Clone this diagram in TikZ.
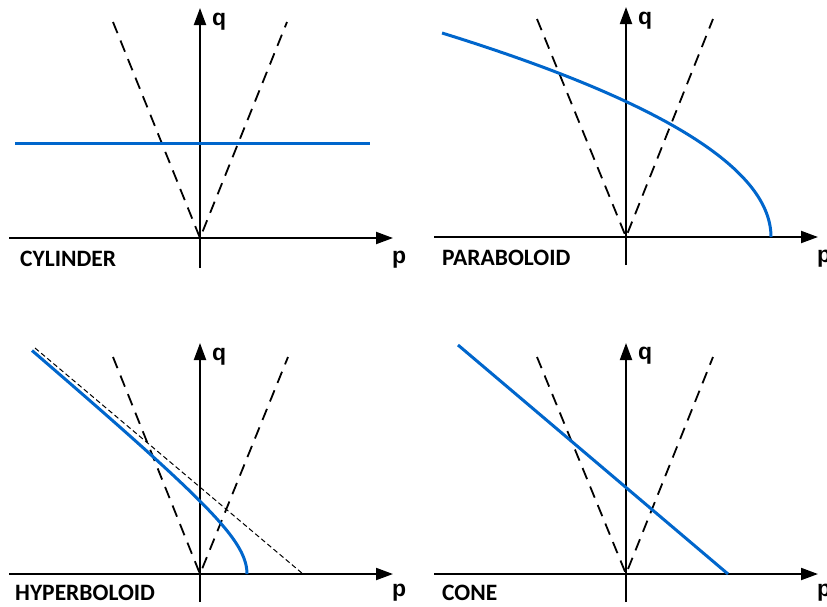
\documentclass[tikz,border=0pt]{standalone}
\usepackage{fontspec}
\setmainfont{Carlito}
\newfontfamily\arialfont{Liberation Sans}
\usetikzlibrary{arrows.meta}
\definecolor{curveblue}{RGB}{0,102,204}
\begin{document}
\begin{tikzpicture}[x=1pt,y=-1pt,
  axis/.style={line width=2pt,-{Triangle[length=17pt,width=12pt]}},
  guide/.style={line width=1.8pt,dash pattern=on 12pt off 8pt},
  asym/.style={line width=1pt,dash pattern=on 5pt off 3pt},
  curve/.style={line width=3pt,curveblue},
  axlabel/.style={inner sep=0pt,anchor=base west,font=\arialfont\bfseries\fontsize{23}{26}\selectfont},
  title/.style={inner sep=0pt,anchor=base west,font=\bfseries\fontsize{23.5}{26}\selectfont}]
\useasboundingbox (0,0) rectangle (827,606);
% ---------- panel 1: cylinder
\coordinate (o1) at (200,238);
\coordinate (x1a) at (9,238);
\coordinate (x1b) at (393,238);
\coordinate (y1a) at (200,268);
\coordinate (y1b) at (200,8);
\coordinate (d1l) at (113,22);
\coordinate (d1r) at (287,22);
\coordinate (c1a) at (15,143);
\coordinate (c1b) at (370,143);
\draw[guide] (d1l) -- (o1) -- (d1r);
\draw[axis] (x1a) -- (x1b);
\draw[axis] (y1a) -- (y1b);
\draw[curve] (c1a) -- (c1b);
\node[axlabel] (q1) at (212,25) {q};
\node[axlabel] (p1) at (392,263) {p};
\node[title] (t1) at (20,266) {CYLINDER};
% ---------- panel 2: paraboloid
\coordinate (o2) at (626,237);
\coordinate (x2a) at (434,237);
\coordinate (x2b) at (818,237);
\coordinate (y2a) at (626,265);
\coordinate (y2b) at (626,7);
\coordinate (d2l) at (537,19);
\coordinate (d2r) at (713,19);
\draw[guide] (d2l) -- (o2) -- (d2r);
\draw[axis] (x2a) -- (x2b);
\draw[axis] (y2a) -- (y2b);
\draw[curve] plot[domain=0:204,samples=80,smooth] ({771-0.0079*\x*\x},{237-\x});
\node[axlabel] (q2) at (638,24) {q};
\node[axlabel] (p2) at (817,262) {p};
\node[title] (t2) at (442,265) {PARABOLOID};
% ---------- panel 3: hyperboloid
\coordinate (o3) at (200,574);
\coordinate (x3a) at (9,574);
\coordinate (x3b) at (393,574);
\coordinate (y3a) at (200,602);
\coordinate (y3b) at (200,343);
\coordinate (d3l) at (113,357);
\coordinate (d3r) at (288,357);
\coordinate (a3a) at (35,348);
\coordinate (a3b) at (303,574);
\draw[guide] (d3l) -- (o3) -- (d3r);
\draw[asym] (a3a) -- (a3b);
\draw[axis] (x3a) -- (x3b);
\draw[axis] (y3a) -- (y3b);
\draw[curve] plot[domain=0:2.26,samples=80,smooth] ({303-56*cosh(\x)},{574-47.2*sinh(\x)});
\node[axlabel] (q3) at (212,360) {q};
\node[axlabel] (p3) at (392,596) {p};
\node[title] (t3) at (15,600) {HYPERBOLOID};
% ---------- panel 4: cone
\coordinate (o4) at (626,574);
\coordinate (x4a) at (434,574);
\coordinate (x4b) at (818,574);
\coordinate (y4a) at (626,602);
\coordinate (y4b) at (626,343);
\coordinate (d4l) at (537,357);
\coordinate (d4r) at (713,357);
\coordinate (c4a) at (458,345);
\coordinate (c4b) at (728,574);
\draw[guide] (d4l) -- (o4) -- (d4r);
\draw[axis] (x4a) -- (x4b);
\draw[axis] (y4a) -- (y4b);
\draw[curve] (c4a) -- (c4b);
\node[axlabel] (q4) at (638,359) {q};
\node[axlabel] (p4) at (817,596) {p};
\node[title] (t4) at (442,600) {CONE};
\end{tikzpicture}
\end{document}
